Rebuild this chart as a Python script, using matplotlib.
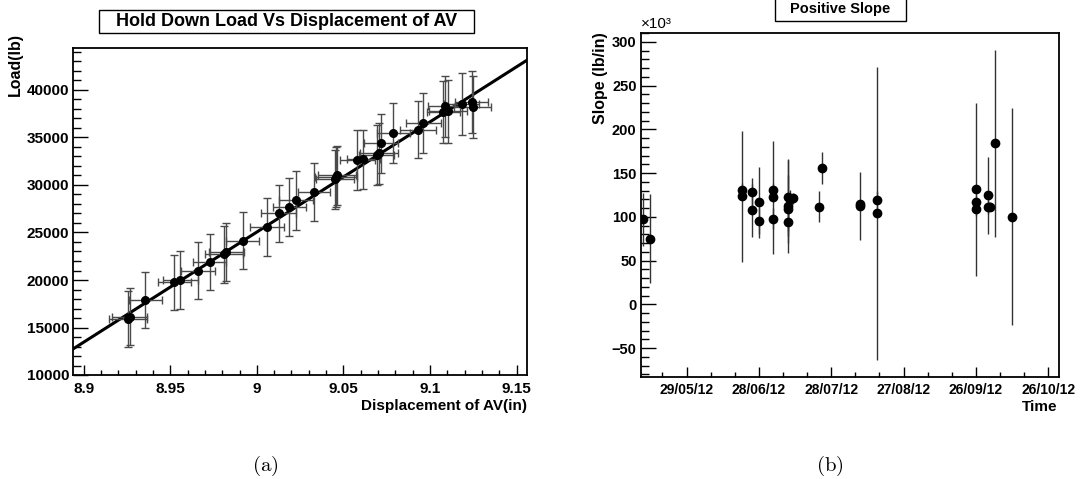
import datetime as dt
import numpy as np
import matplotlib
matplotlib.use('Agg')
import matplotlib.pyplot as plt
import matplotlib.dates as mdates
from matplotlib.patches import Rectangle
from matplotlib.ticker import MultipleLocator, FuncFormatter, FixedLocator

plt.rcParams['font.family'] = ['Liberation Sans', 'DejaVu Sans']
plt.rcParams['font.weight'] = 'bold'
plt.rcParams['mathtext.fontset'] = 'cm'

# (a) hold down load vs displacement of AV
disp = [8.9254, 8.9265, 8.9356, 8.9523, 8.9558, 8.9660, 8.9727, 8.9811, 8.9823, 8.9919,
        9.0058, 9.0125, 9.0188, 9.0227, 9.0330, 9.0452, 9.0458, 9.0465, 9.0580, 9.0615,
        9.0692, 9.0707, 9.0717, 9.0788, 9.0932, 9.0961, 9.1076, 9.1086, 9.1105, 9.1182,
        9.1240, 9.1246]
disp_err = [0.011, 0.010, 0.0095, 0.0095, 0.010, 0.010, 0.0095, 0.011, 0.010, 0.0095,
            0.010, 0.010, 0.0095, 0.010, 0.0095, 0.011, 0.012, 0.011, 0.010, 0.0095,
            0.010, 0.011, 0.010, 0.0095, 0.0105, 0.010, 0.0095, 0.010, 0.011, 0.010,
            0.0095, 0.0105]
load = [15900, 16140, 17900, 19760, 20000, 20980, 21920, 22700, 22975, 24130,
        25600, 27010, 27640, 28410, 29280, 30580, 30800, 31040, 32610, 32690,
        33140, 33320, 34370, 35480, 35840, 36530, 37690, 38290, 37760, 38500,
        38740, 38210]
load_err = [2950, 3000, 2950, 2900, 3000, 2980, 2950, 3000, 3050, 3000,
            3050, 3000, 3050, 3100, 3050, 3100, 3150, 3100, 3150, 3100,
            3150, 3200, 3150, 3200, 3000, 3200, 3250, 3200, 3300, 3250,
            3300, 3250]

# linear fit through the points
fit_x0 = 9.0
fit_y0 = 25050
fit_slope = 115960  # lb/in

# (b) positive slope vs time (x10^3 lb/in)
dates = ['2012-05-11', '2012-05-14',
         '2012-06-21', '2012-06-21',
         '2012-06-25', '2012-06-25',
         '2012-06-28', '2012-06-28',
         '2012-07-04', '2012-07-04', '2012-07-04',
         '2012-07-10', '2012-07-10', '2012-07-10', '2012-07-10',
         '2012-07-11', '2012-07-12',
         '2012-07-23', '2012-07-24',
         '2012-08-09', '2012-08-09',
         '2012-08-16', '2012-08-16',
         '2012-09-26', '2012-09-26', '2012-09-26',
         '2012-10-01', '2012-10-01', '2012-10-02', '2012-10-04', '2012-10-11']
slope = [97, 75,
         130.5, 123.6,
         128.2, 107.3,
         116.4, 95.4,
         130.5, 122.1, 97.7,
         122.1, 112.2, 108.8, 94.3,
         120.2, 121.0,
         111.4, 155.9,
         112.2, 114.1,
         103.9, 119.0,
         131.3, 116.8, 108.4,
         124.8, 110.7, 111.4, 183.8, 100.0]
slope_err = [30, 51,
             8, 75,
             15.6, 30,
             41, 15,
             8, 65, 12,
             44, 53, 39, 10,
             11, 6,
             17.6, 18,
             39, 5,
             167, 10,
             99, 8, 8,
             44, 8, 5, 107, 124]

W, H = 1085, 479
fig = plt.figure(figsize=(W / 100, H / 100), dpi=100)
ax1 = fig.add_axes([73.3 / W, 1 - 375 / H, 453.7 / W, 326.8 / H])
ax2 = fig.add_axes([640.7 / W, 1 - 377 / H, 418 / W, 344 / H])

# --- left panel ---
xl = np.array([8.894, 9.156])
ax1.plot(xl, fit_y0 + fit_slope * (xl - fit_x0), color='black', lw=2.2, zorder=2)
ax1.errorbar(disp, load, xerr=disp_err, yerr=load_err, fmt='o', color='black', ms=5.5,
             ecolor='#4a4a4a', elinewidth=1, capsize=3, capthick=1, zorder=3)
ax1.set_xlim(8.894, 9.156)
ax1.set_ylim(10000, 44400)
ax1.xaxis.set_major_locator(MultipleLocator(0.05))
ax1.xaxis.set_minor_locator(MultipleLocator(0.01))
ax1.yaxis.set_major_locator(MultipleLocator(5000))
ax1.yaxis.set_minor_locator(MultipleLocator(1000))
ax1.xaxis.set_major_formatter(FuncFormatter(lambda v, p: '%g' % round(v, 3)))
ax1.yaxis.set_major_formatter(FuncFormatter(lambda v, p: '%d' % v))

# --- right panel ---
dnum = mdates.date2num([dt.datetime.strptime(d, '%Y-%m-%d') for d in dates])
ax2.errorbar(dnum, slope, yerr=slope_err, fmt='o', color='black', ms=6,
             ecolor='#333333', elinewidth=1, capsize=0, zorder=3)
t0 = mdates.date2num(dt.datetime(2012, 5, 29))
ax2.set_xlim(t0 - 19, t0 + 154.3)
ax2.set_ylim(-83, 310)
ax2.xaxis.set_major_locator(FixedLocator(t0 + np.arange(0, 160, 30)))
ax2.xaxis.set_minor_locator(FixedLocator(t0 + np.arange(-10, 160, 10)))
ax2.xaxis.set_major_formatter(mdates.DateFormatter('%d/%m/%y'))
ax2.yaxis.set_major_locator(MultipleLocator(50))
ax2.yaxis.set_minor_locator(MultipleLocator(10))

for ax in (ax1, ax2):
    ax.tick_params(which='both', direction='in', top=False, right=False)
    ax.tick_params(axis='y', which='major', length=11, width=1)
    ax.tick_params(axis='y', which='minor', length=5.5, width=1)
    ax.tick_params(axis='x', which='major', length=7, width=1)
    ax.tick_params(axis='x', which='minor', length=3.5, width=1)
    for s in ax.spines.values():
        s.set_linewidth(1.3)
ax1.tick_params(labelsize=11)
ax1.tick_params(axis='x', pad=5)
ax1.tick_params(axis='y', pad=3)
ax2.tick_params(axis='x', labelsize=10, pad=4)
ax2.tick_params(axis='y', labelsize=10.5, pad=3)

# titles in boxes
fig.add_artist(Rectangle((99 / W, 1 - 32.8 / H), 375 / W, 23.1 / H, transform=fig.transFigure,
                         fc='white', ec='black', lw=1))
fig.text(286.5 / W, 1 - 21 / H, 'Hold Down Load Vs Displacement of AV', ha='center', va='center',
         fontsize=13)
fig.add_artist(Rectangle((774.6 / W, 1 - 20.5 / H), 131.4 / W, 23 / H, transform=fig.transFigure,
                         fc='white', ec='black', lw=1))
fig.text(840 / W, 1 - 9.5 / H, 'Positive Slope', ha='center', va='center', fontsize=10.5)

# axis titles
fig.text(15 / W, 1 - 33 / H, 'Load(lb)', rotation=90, ha='center', va='top', fontsize=11.5)
fig.text(527 / W, 1 - 406 / H, 'Displacement of AV(in)', ha='right', va='center', fontsize=11)
fig.text(601 / W, 1 - 32 / H, 'Slope (lb/in)', rotation=90, ha='center', va='top', fontsize=11.5)
fig.text(1057.5 / W, 1 - 407 / H, 'Time', ha='right', va='center', fontsize=11)
fig.text(641 / W, 1 - 24 / H, '×10³', ha='left', va='center', fontsize=11, fontweight='normal')

# sub-captions
fig.text(265 / W, 1 - 466 / H, r'$\mathrm{(a)}$', ha='center', va='center', fontsize=15)
fig.text(830 / W, 1 - 466 / H, r'$\mathrm{(b)}$', ha='center', va='center', fontsize=15)

fig.savefig('out.png', dpi=100)
